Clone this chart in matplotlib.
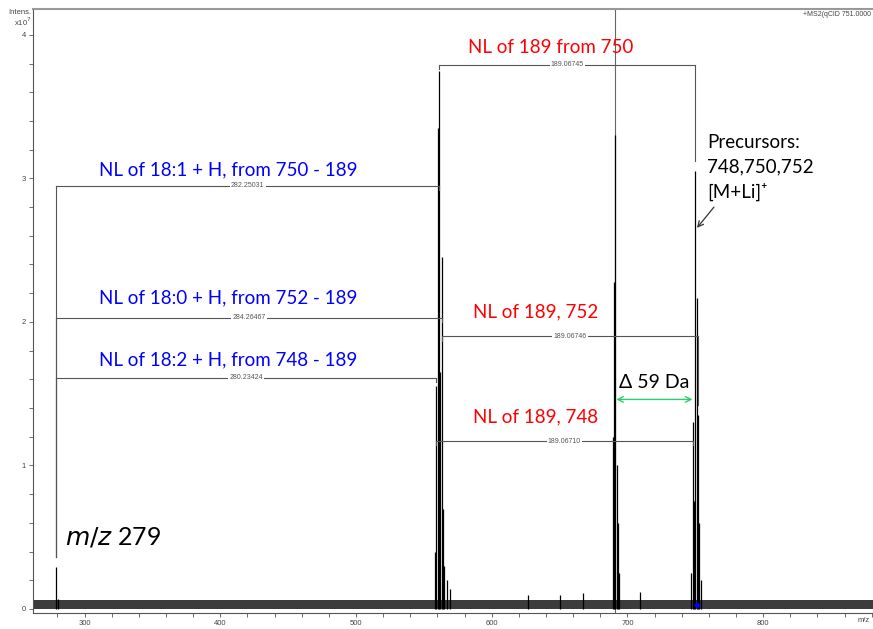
import matplotlib
matplotlib.use("Agg")
import matplotlib.pyplot as plt
from matplotlib.ticker import MultipleLocator

# ---------------- data (intensity in units of 1e7) ----------------
peak_mz = [279.2, 280.2,
           558.2, 559.2, 560.2, 561.2, 562.2, 563.2, 564.2, 565.2, 567.3, 569.5,
           626.7, 650.0, 667.0,
           689.1, 690.1, 691.1, 692.1, 693.1, 694.1, 709.5,
           747.1, 748.1, 749.1, 750.1, 751.1, 752.1, 753.1, 754.1]
peak_int = [0.29, 0.07,
            0.40, 1.55, 3.35, 3.75, 1.65, 2.45, 0.70, 0.30, 0.20, 0.14,
            0.10, 0.10, 0.11,
            1.20, 2.28, 3.30, 1.00, 0.60, 0.25, 0.12,
            0.25, 1.30, 0.75, 3.05, 2.17, 1.35, 0.60, 0.20]

noise_mz = [262, 881]
noise_top = [0.06, 0.06]

cursor_mz = 691.1
precursor_mz = 751.0

# brackets: level, left m/z, right m/z, label
br_level = [3.79, 2.95, 2.03, 1.61, 1.90, 1.17]
br_left = [561.2, 279.2, 279.2, 279.2, 563.2, 559.2]
br_right = [750.1, 561.2, 563.2, 559.2, 752.1, 748.1]
br_value = ["189.06745", "282.25031", "284.26467", "280.23424", "189.06746", "189.06710"]

note_text = ["NL of 189 from 750", "NL of 18:1 + H, from 750 - 189",
             "NL of 18:0 + H, from 752 - 189", "NL of 18:2 + H, from 748 - 189",
             "NL of 189, 752", "NL of 189, 748"]
note_color = ["#ff0000", "#0000ff", "#0000ff", "#0000ff", "#ff0000", "#ff0000"]
note_x = [643.8, 405.7, 405.7, 405.7, 632.7, 632.7]
note_y = [3.91, 3.06, 2.17, 1.735, 2.07, 1.34]

delta_from, delta_to = 691.8, 748.0

FONT = ["Lato", "DejaVu Sans"]

fig = plt.figure(figsize=(8.73, 6.29), dpi=100)
ax = fig.add_axes([33 / 873, 1 - 613 / 629, 1 - 33 / 873, (613 - 9) / 629])
ax.set_xlim(262, 881)
ax.set_ylim(-0.028, 4.18)

# noise band
ax.fill_between(noise_mz, 0, noise_top, color="#111111", lw=0, alpha=0.82, zorder=2)

# cursor line
ax.axvline(cursor_mz, color="#666666", lw=0.8, zorder=1)

# peaks
ax.vlines(peak_mz, 0, peak_int, color="black", lw=0.9, zorder=3)
ax.plot([precursor_mz], [0.03], marker="D", ms=2.5, color="#0000ff", zorder=4)

def height_at(m):
    i = min(range(len(peak_mz)), key=lambda k: abs(peak_mz[k] - m))
    return peak_int[i]

gap = 0.07
for lev, ml, mr, val in zip(br_level, br_left, br_right, br_value):
    ax.plot([ml, mr], [lev, lev], color="#555555", lw=0.8, zorder=4)
    for m in (ml, mr):
        h = height_at(m)
        if h + gap < lev:
            ax.plot([m, m], [h + gap, lev], color="#555555", lw=0.8, zorder=4)
        else:
            ax.plot([m, m], [lev - 0.03, lev], color="#555555", lw=0.8, zorder=4)
    ax.text((ml + mr) / 2, lev, val, ha="center", va="center", fontsize=5,
            family=["Liberation Sans"], color="#555555", zorder=5,
            bbox=dict(facecolor="white", edgecolor="none", pad=0.8))

for t, c, x, y in zip(note_text, note_color, note_x, note_y):
    ax.text(x, y, t, ha="center", va="center", fontsize=13.5, color=c,
            family=FONT, zorder=6)

# delta arrow
ax.annotate("", xy=(delta_to, 1.46), xytext=(delta_from, 1.46),
            arrowprops=dict(arrowstyle="<->", color="#2ecc71", lw=1.0,
                            shrinkA=0, shrinkB=0), zorder=6)
ax.text((delta_from + delta_to) / 2, 1.575, "Δ 59 Da", ha="center", va="center",
        fontsize=14, color="black", family=FONT, zorder=6)

ax.text(758.7, 3.31, "Precursors:\n748,750,752\n[M+Li]⁺", ha="left", va="top",
        fontsize=13.5, color="black", family=FONT, linespacing=1.5, zorder=6)
ax.annotate("", xy=(751.3, 2.655), xytext=(763.8, 2.80),
            arrowprops=dict(arrowstyle="->", color="#333333", lw=0.9,
                            shrinkA=0, shrinkB=0), zorder=6)

ax.text(285.6, 0.50, r"$\it{m/z}$ 279", ha="left", va="center", fontsize=18,
        family=FONT, color="black", zorder=6)

# axes styling
ax.spines["right"].set_visible(False)
ax.spines["top"].set_color("#999999")
ax.spines["top"].set_linewidth(1.5)
ax.spines["left"].set_color("#555555")
ax.spines["bottom"].set_color("#555555")
ax.spines["left"].set_linewidth(0.8)
ax.spines["bottom"].set_linewidth(0.8)

ax.set_xticks([300, 400, 500, 600, 700, 800])
ax.set_yticks([0, 1, 2, 3, 4])
ax.xaxis.set_minor_locator(MultipleLocator(20))
ax.yaxis.set_minor_locator(MultipleLocator(0.2))
ax.tick_params(axis="both", which="both", direction="out", length=3, width=0.6,
               color="#555555", labelsize=5.5, labelcolor="#444444", pad=2)
for lab in ax.get_xticklabels() + ax.get_yticklabels():
    lab.set_family("Liberation Sans")

fig.text(31 / 873, 1 - 12 / 629, "Intens.", ha="right", va="center", fontsize=5.5,
         family="Liberation Sans", color="#444444")
fig.text(31 / 873, 1 - 22 / 629, r"x10$^7$", ha="right", va="center", fontsize=5.5,
         family="Liberation Sans", color="#444444")
fig.text(871 / 873, 1 - 15 / 629, "+MS2(qCID 751.0000", ha="right",
         va="center", fontsize=5, family="Liberation Sans", color="#444444")
fig.text(858 / 873, 1 - 621 / 629, "m/z", ha="left", va="center", fontsize=5.5,
         family="Liberation Sans", color="#444444")

fig.savefig("out.png", dpi=100)
